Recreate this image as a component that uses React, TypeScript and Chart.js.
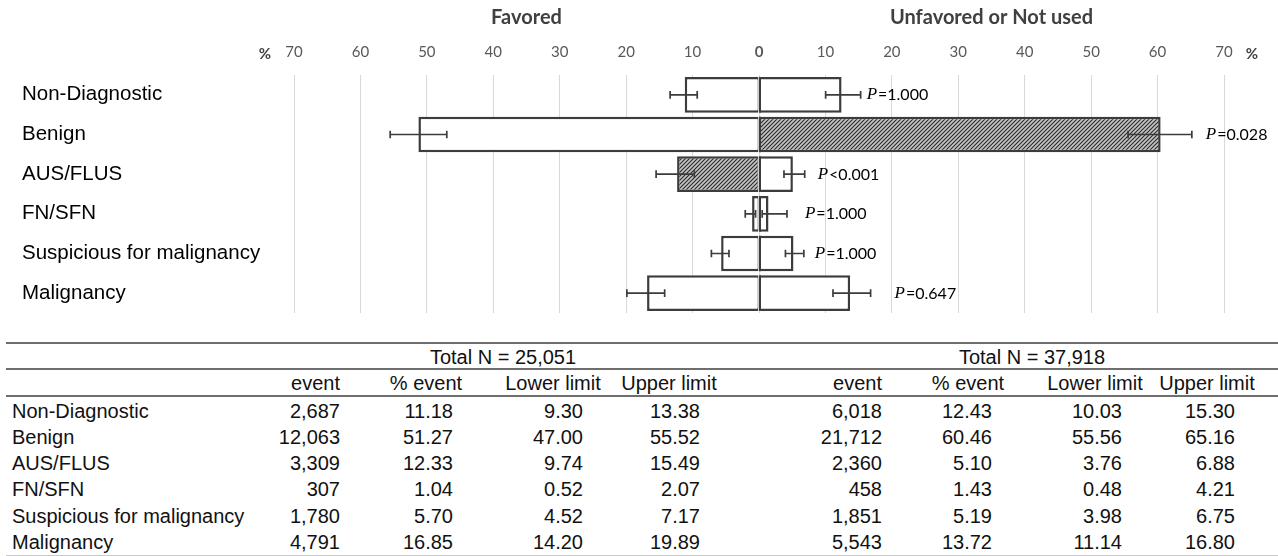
import React, { useEffect, useRef } from "react";
import { Chart, registerables } from "chart.js";

Chart.register(...registerables);

// ---------- data ----------
const categories = [
  "Non-Diagnostic",
  "Benign",
  "AUS/FLUS",
  "FN/SFN",
  "Suspicious for malignancy",
  "Malignancy",
];
const favoredTotal = 25051;
const unfavoredTotal = 37918;

const favoredEvents = [2687, 12063, 3309, 307, 1780, 4791];
const favoredPct = [11.18, 51.27, 12.33, 1.04, 5.7, 16.85];
const favoredLower = [9.3, 47.0, 9.74, 0.52, 4.52, 14.2];
const favoredUpper = [13.38, 55.52, 15.49, 2.07, 7.17, 19.89];

const unfavoredEvents = [6018, 21712, 2360, 458, 1851, 5543];
const unfavoredPct = [12.43, 60.46, 5.1, 1.43, 5.19, 13.72];
const unfavoredLower = [10.03, 55.56, 3.76, 0.48, 3.98, 11.14];
const unfavoredUpper = [15.3, 65.16, 6.88, 4.21, 6.75, 16.8];

const pValues = ["=1.000", "=0.028", "<0.001", "=1.000", "=1.000", "=0.647"];

const sideTitles = ["Favored", "Unfavored or Not used"];
const tableHeaders = ["event", "% event", "Lower limit", "Upper limit"];

// which bars are hatched (style)
const favoredHatched = [false, false, true, false, false, false];
const unfavoredHatched = [false, true, false, false, false, false];
// pixel gap between the error bar end and the P label (layout)
const pLabelGap = [6, 14, 13, 18, 11, 24];

// ---------- layout constants ----------
const W = 1278;
const H = 556;
const CHART_H = 330;
const LINE = "#3c3c3c";
const SANS = '"Liberation Sans", Arial, sans-serif';
const LATO = 'Lato, "Open Sans", sans-serif';

const fmtInt = (n: number) => n.toLocaleString("en-US");
const fmt2 = (n: number) => n.toFixed(2);

function makeHatch(ctx: CanvasRenderingContext2D) {
  const s = 4;
  const c = document.createElement("canvas");
  c.width = s;
  c.height = s;
  const g = c.getContext("2d")!;
  g.fillStyle = "#c4c4c4";
  g.fillRect(0, 0, s, s);
  g.strokeStyle = "#2a2a2a";
  g.lineWidth = 1.1;
  g.beginPath();
  g.moveTo(0, s);
  g.lineTo(s, 0);
  g.moveTo(-1, 1);
  g.lineTo(1, -1);
  g.moveTo(s - 1, s + 1);
  g.lineTo(s + 1, s - 1);
  g.stroke();
  return ctx.createPattern(c, "repeat") as CanvasPattern;
}

const overlayPlugin = {
  id: "overlay",
  afterDatasetsDraw(chart: any) {
    const { ctx, scales } = chart;
    const xs = scales.x;
    const ys = scales.y;
    ctx.save();
    // dark centre line of each bar pair (shared base at 0)
    const meta = chart.getDatasetMeta(1);
    ctx.strokeStyle = LINE;
    ctx.lineWidth = 2;
    meta.data.forEach((el: any) => {
      const p = el.getProps(["base", "y", "height"], true);
      const x0 = Math.round(p.base);
      ctx.beginPath();
      ctx.moveTo(x0, p.y - p.height / 2);
      ctx.lineTo(x0, p.y + p.height / 2);
      ctx.stroke();
    });
    // error bars
    ctx.lineWidth = 1.7;
    const cap = 3.8;
    const drawErr = (a: number, b: number, y: number) => {
      const x1 = xs.getPixelForValue(a);
      const x2 = xs.getPixelForValue(b);
      ctx.beginPath();
      ctx.moveTo(x1, y);
      ctx.lineTo(x2, y);
      ctx.moveTo(x1, y - cap);
      ctx.lineTo(x1, y + cap);
      ctx.moveTo(x2, y - cap);
      ctx.lineTo(x2, y + cap);
      ctx.stroke();
    };
    categories.forEach((_, i) => {
      const y = ys.getPixelForValue(i);
      drawErr(-favoredLower[i], -favoredUpper[i], y);
      drawErr(unfavoredLower[i], unfavoredUpper[i], y);
    });
    // P labels
    ctx.textBaseline = "middle";
    ctx.textAlign = "left";
    ctx.fillStyle = "#000";
    categories.forEach((_, i) => {
      const y = ys.getPixelForValue(i);
      const end = Math.max(
        xs.getPixelForValue(unfavoredUpper[i]),
        xs.getPixelForValue(unfavoredPct[i])
      );
      const x = end + pLabelGap[i];
      ctx.font = `italic 17px "Liberation Serif", "DejaVu Serif", serif`;
      ctx.fillText("P", x, y);
      const pw = ctx.measureText("P").width;
      ctx.font = `16px ${LATO}`;
      ctx.fillText(pValues[i], x + pw + 1, y + 0.5);
    });
    ctx.restore();
  },
  afterDraw(chart: any) {
    const { ctx, scales, chartArea } = chart;
    const xs = scales.x;
    ctx.save();
    ctx.textBaseline = "middle";
    ctx.textAlign = "center";
    ctx.fillStyle = "#404040";
    ctx.font = `bold 20px ${LATO}`;
    ctx.fillText(sideTitles[0], xs.getPixelForValue(-35), 18);
    ctx.fillText(sideTitles[1], xs.getPixelForValue(35), 18);
    ctx.fillStyle = "#404040";
    ctx.font = `bold 15px ${LATO}`;
    ctx.fillText("%", chartArea.left - 29, 54);
    ctx.fillText("%", chartArea.right + 28, 54);
    ctx.restore();
  },
};

function ChartPart() {
  const ref = useRef<HTMLCanvasElement | null>(null);
  useEffect(() => {
    const canvas = ref.current!;
    const ctx = canvas.getContext("2d")!;
    const hatch = makeHatch(ctx);
    const chart = new Chart(canvas, {
      type: "bar",
      data: {
        labels: categories,
        datasets: [
          {
            label: sideTitles[0],
            data: favoredPct.map((v) => -v),
            backgroundColor: favoredHatched.map((h) => (h ? hatch : "#ffffff")),
            borderColor: LINE,
            borderWidth: { top: 2.5, bottom: 2.5, left: 2.5, right: 1 } as any,
            borderSkipped: false,
            inflateAmount: 0,
            barPercentage: 0.9,
            categoryPercentage: 1,
          },
          {
            label: sideTitles[1],
            data: unfavoredPct,
            backgroundColor: unfavoredHatched.map((h) => (h ? hatch : "#ffffff")),
            borderColor: LINE,
            borderWidth: { top: 2.5, bottom: 2.5, left: 1, right: 2.5 } as any,
            borderSkipped: false,
            inflateAmount: 0,
            barPercentage: 0.9,
            categoryPercentage: 1,
          },
        ],
      },
      options: {
        indexAxis: "y",
        responsive: false,
        animation: false,
        layout: { padding: { left: 22, right: 54, top: 0, bottom: 17 } },
        plugins: {
          legend: { display: false },
          tooltip: { enabled: false },
        },
        scales: {
          x: {
            position: "top",
            stacked: true,
            min: -70,
            max: 70,
            ticks: {
              stepSize: 10,
              autoSkip: false,
              maxRotation: 0,
              padding: 14,
              color: "#595959",
              callback: (v: any) => String(Math.abs(Number(v))),
              font: (c: any) =>
                c.tick && c.tick.value === 0
                  ? { family: LATO, size: 15, weight: "bold" }
                  : { family: LATO, size: 15 },
            },
            grid: { color: "#d9d9d9", lineWidth: 1, drawTicks: false },
            border: { display: false },
            afterFit: (s: any) => {
              s.height = 75;
            },
          },
          y: {
            stacked: true,
            ticks: {
              crossAlign: "far",
              color: "#000",
              font: { family: SANS, size: 20.5 },
            },
            grid: { display: false },
            border: { display: false },
            afterFit: (s: any) => {
              s.width = 272;
            },
          },
        },
      } as any,
      plugins: [overlayPlugin],
    });
    return () => chart.destroy();
  }, []);
  return (
    <canvas
      ref={ref}
      width={W}
      height={CHART_H}
      style={{ position: "absolute", left: 0, top: 0, width: W, height: CHART_H }}
    />
  );
}

// table layout (x positions)
const groups = [
  {
    total: favoredTotal,
    totalX: 503,
    headRight: 340,
    headCenters: [426, 553, 669],
    numRights: [340, 453, 583, 700],
    events: favoredEvents,
    pct: favoredPct,
    lower: favoredLower,
    upper: favoredUpper,
  },
  {
    total: unfavoredTotal,
    totalX: 1032,
    headRight: 882,
    headCenters: [968, 1095, 1207],
    numRights: [882, 992, 1122, 1235],
    events: unfavoredEvents,
    pct: unfavoredPct,
    lower: unfavoredLower,
    upper: unfavoredUpper,
  },
];

const LH = 24;
const txtBase: React.CSSProperties = {
  position: "absolute",
  fontFamily: SANS,
  fontSize: 20,
  lineHeight: `${LH}px`,
  height: LH,
  color: "#111",
  whiteSpace: "nowrap",
};

function Right({ x, y, children }: { x: number; y: number; children: any }) {
  return (
    <div style={{ ...txtBase, right: W - x, top: y - LH / 2, textAlign: "right" }}>{children}</div>
  );
}
function Center({ x, y, children }: { x: number; y: number; children: any }) {
  return (
    <div style={{ ...txtBase, left: x - 150, width: 300, top: y - LH / 2, textAlign: "center" }}>
      {children}
    </div>
  );
}
function Left({ x, y, children }: { x: number; y: number; children: any }) {
  return <div style={{ ...txtBase, left: x, top: y - LH / 2 }}>{children}</div>;
}
function HLine({ y, color, h }: { y: number; color: string; h: number }) {
  return (
    <div
      style={{ position: "absolute", left: 6, width: W - 6, top: y - h / 2, height: h, background: color }}
    />
  );
}

function TablePart() {
  const rowY = (i: number) => 410.5 + i * 26.3;
  return (
    <>
      <HLine y={343} color="#6e6e6e" h={2} />
      <HLine y={369} color="#6e6e6e" h={2} />
      <HLine y={396} color="#6e6e6e" h={2} />
      <HLine y={555} color="#c8c8c8" h={1} />
      {groups.map((g, gi) => (
        <React.Fragment key={gi}>
          <Center x={g.totalX} y={357}>{`Total N = ${fmtInt(g.total)}`}</Center>
          <Right x={g.headRight} y={383}>{tableHeaders[0]}</Right>
          {g.headCenters.map((cx, k) => (
            <Center key={k} x={cx} y={383}>
              {tableHeaders[k + 1]}
            </Center>
          ))}
          {categories.map((_, i) => (
            <React.Fragment key={i}>
              <Right x={g.numRights[0]} y={rowY(i)}>{fmtInt(g.events[i])}</Right>
              <Right x={g.numRights[1]} y={rowY(i)}>{fmt2(g.pct[i])}</Right>
              <Right x={g.numRights[2]} y={rowY(i)}>{fmt2(g.lower[i])}</Right>
              <Right x={g.numRights[3]} y={rowY(i)}>{fmt2(g.upper[i])}</Right>
            </React.Fragment>
          ))}
        </React.Fragment>
      ))}
      {categories.map((c, i) => (
        <Left key={c} x={12} y={rowY(i)}>
          {c}
        </Left>
      ))}
    </>
  );
}

export default function App() {
  useEffect(() => {
    document.body.style.margin = "0";
  }, []);
  return (
    <div
      style={{
        position: "relative",
        width: W,
        height: H,
        overflow: "hidden",
        background: "#fff",
      }}
    >
      <ChartPart />
      <TablePart />
    </div>
  );
}
